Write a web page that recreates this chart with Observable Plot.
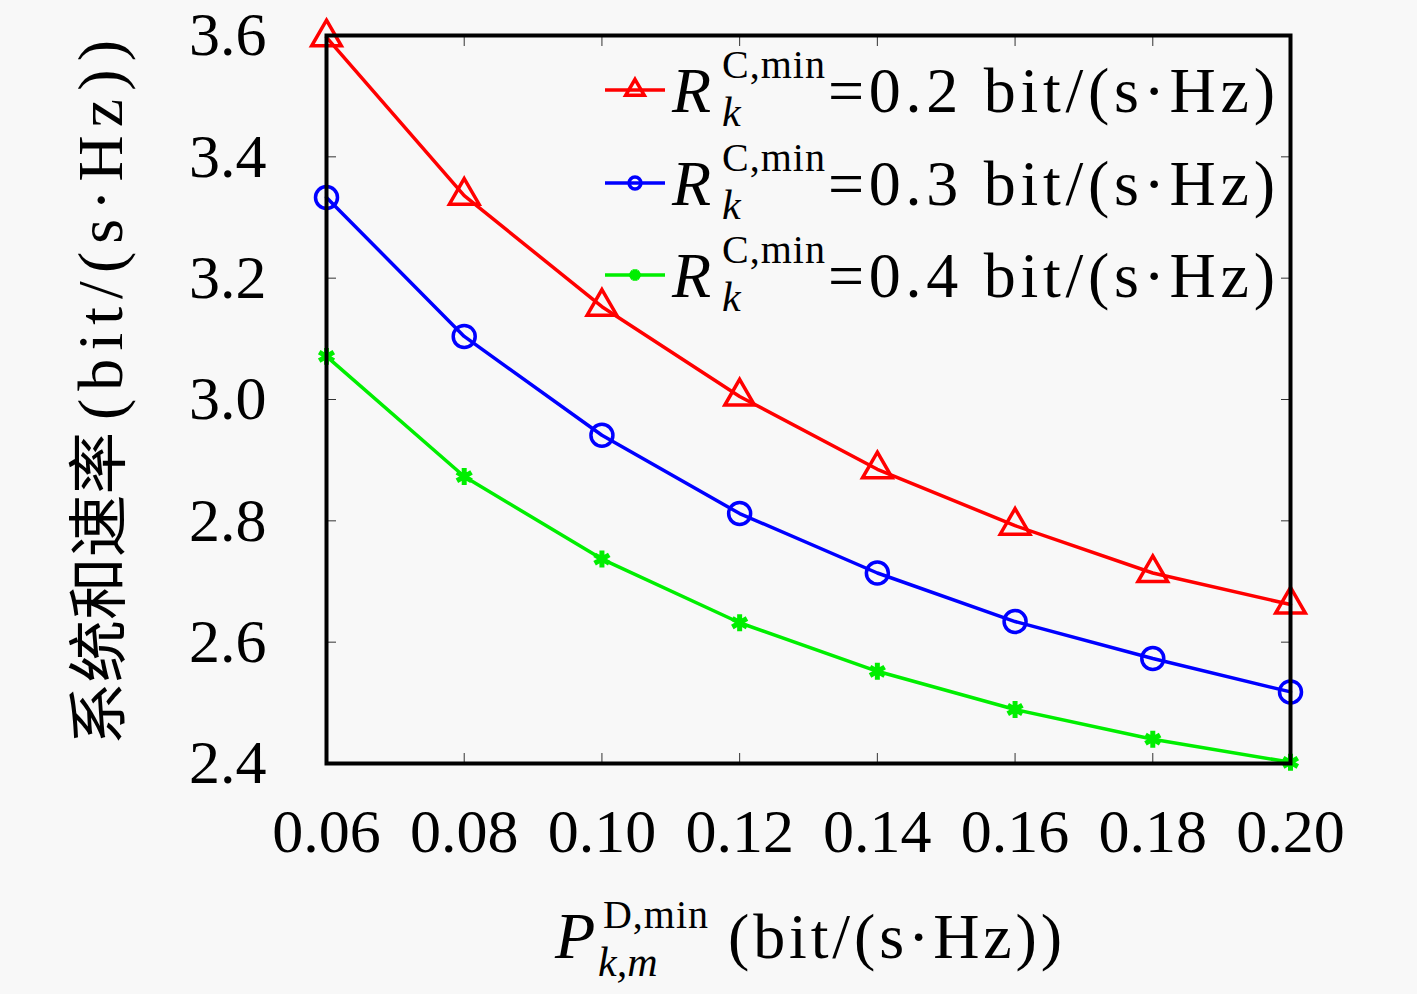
<!DOCTYPE html>
<html>
<head>
<meta charset="utf-8">
<script src="https://cdn.jsdelivr.net/npm/d3@7"></script>
<script src="https://cdn.jsdelivr.net/npm/@observablehq/plot@0.6"></script>
<style>
  html, body { margin: 0; padding: 0; background: #f8f8f8; }
  #chart svg { display: block; }
</style>
</head>
<body>
<div id="chart"></div>
<script>
// ---- data ----
const xValues = [0.06, 0.08, 0.10, 0.12, 0.14, 0.16, 0.18, 0.20];
const series02 = [3.597, 3.336, 3.153, 3.005, 2.885, 2.792, 2.714, 2.662];
const series03 = [3.333, 3.104, 2.941, 2.812, 2.714, 2.634, 2.573, 2.518];
const series04 = [3.071, 2.873, 2.737, 2.632, 2.552, 2.489, 2.440, 2.402];
const seriesNames = ["0.2", "0.3", "0.4"];
const seriesColors = ["#ff0000", "#0000ff", "#00ee00"];
const seriesSymbols = ["triangle", "circle", "asterisk"];
const xTicks = [0.06, 0.08, 0.10, 0.12, 0.14, 0.16, 0.18, 0.20];
const yTicks = [2.4, 2.6, 2.8, 3.0, 3.2, 3.4, 3.6];

const allSeries = [series02, series03, series04];
const rows = [];
allSeries.forEach((vals, si) => vals.forEach((v, i) => rows.push({x: xValues[i], y: v, s: seriesNames[si]})));

const serif = "'Liberation Serif', 'DejaVu Serif', serif";
const W = 1417, H = 994;
const mL = 326, mR = 127, mT = 35, mB = 231;

const plot = Plot.plot({
  width: W, height: H,
  marginLeft: mL, marginRight: mR, marginTop: mT, marginBottom: mB,
  style: {background: "#f8f8f8", fontFamily: serif, color: "black", overflow: "visible"},
  x: {domain: [0.06, 0.20]},
  y: {domain: [2.4, 3.6]},
  color: {domain: seriesNames, range: seriesColors},
  symbol: {domain: seriesNames, range: seriesSymbols},
  marks: [
    // inward ticks on all four sides
    Plot.axisX({anchor: "bottom", ticks: xTicks, tickSize: 10, dy: -10, tickFormat: () => "", label: null, stroke: "#333"}),
    Plot.axisX({anchor: "top", ticks: xTicks, tickSize: 10, dy: 10, tickFormat: () => "", label: null, stroke: "#333"}),
    Plot.axisY({anchor: "left", ticks: yTicks, tickSize: 10, dx: 10, tickFormat: () => "", label: null, stroke: "#333"}),
    Plot.axisY({anchor: "right", ticks: yTicks, tickSize: 10, dx: -10, tickFormat: () => "", label: null, stroke: "#333"}),
    // tick labels
    Plot.axisX({anchor: "bottom", ticks: xTicks, tickSize: 0, tickPadding: 44, fontSize: 62, tickFormat: d3.format(".2f"), label: null}),
    Plot.axisY({anchor: "left", ticks: yTicks, tickSize: 0, tickPadding: 60, fontSize: 62, tickFormat: d3.format(".1f"), label: null}),
    Plot.line(rows, {x: "x", y: "y", z: "s", stroke: "s", strokeWidth: 3.5}),
    Plot.dot(rows.filter(d => d.s !== "0.4"), {x: "x", y: "y", stroke: "s", symbol: "s", r: 11, strokeWidth: 3.5, fill: "none"}),
    Plot.dot(rows.filter(d => d.s === "0.4"), {x: "x", y: "y", stroke: "s", symbol: "s", r: 8, strokeWidth: 5, fill: "s"}),
    Plot.frame({stroke: "black", strokeWidth: 4})
  ]
});
document.getElementById("chart").appendChild(plot);

const svg = d3.select(plot);

// ---- legend ----
const legendY = [90, 183, 275];
const lg = svg.append("g").attr("font-family", serif).attr("fill", "black").attr("text-anchor", "start");
seriesNames.forEach((name, i) => {
  const cy = legendY[i];
  const col = seriesColors[i];
  lg.append("line").attr("x1", 605).attr("x2", 665).attr("y1", cy).attr("y2", cy)
    .attr("stroke", col).attr("stroke-width", 3.5);
  let sym;
  if (seriesSymbols[i] === "triangle") sym = d3.symbol(d3.symbolTriangle, 150)();
  else if (seriesSymbols[i] === "circle") sym = d3.symbol(d3.symbolCircle, 110)();
  else sym = d3.symbol(d3.symbolAsterisk, 90)();
  lg.append("path").attr("d", sym).attr("transform", `translate(635,${cy})`)
    .attr("stroke", col).attr("stroke-width", seriesSymbols[i] === "asterisk" ? 5 : 3.5)
    .attr("fill", seriesSymbols[i] === "asterisk" ? col : "none");
  const base = cy + 22;
  lg.append("text").attr("x", 672).attr("y", base).attr("font-size", 64).attr("font-style", "italic").text("R");
  lg.append("text").attr("x", 722).attr("y", base - 34).attr("font-size", 40)
    .attr("textLength", 103).attr("lengthAdjust", "spacing").text("C,min");
  lg.append("text").attr("x", 722).attr("y", base + 14).attr("font-size", 42).attr("font-style", "italic").text("k");
  lg.append("text").attr("x", 828).attr("y", base).attr("font-size", 64)
    .attr("textLength", 447).attr("lengthAdjust", "spacing")
    .text(`=${name} bit/(s·Hz)`);
});

// ---- x axis title ----
const xt = svg.append("g").attr("font-family", serif).attr("fill", "black").attr("text-anchor", "start");
xt.append("text").attr("x", 555).attr("y", 958).attr("font-size", 66).attr("font-style", "italic").text("P");
xt.append("text").attr("x", 603).attr("y", 928).attr("font-size", 40)
  .attr("textLength", 105).attr("lengthAdjust", "spacing").text("D,min");
xt.append("text").attr("x", 598).attr("y", 976).attr("font-size", 42).attr("font-style", "italic").text("k,m");
xt.append("text").attr("x", 728).attr("y", 958).attr("font-size", 64)
  .attr("textLength", 334).attr("lengthAdjust", "spacing").text("(bit/(s·Hz))");

// ---- y axis title ----
const yt = svg.append("g").attr("transform", "translate(122,0) rotate(-90)").attr("fill", "black").attr("text-anchor", "start");
yt.append("text").attr("x", -745).attr("y", -2).attr("font-size", 60)
  .attr("font-family", "'Noto Sans CJK SC', sans-serif")
  .attr("textLength", 313).attr("lengthAdjust", "spacingAndGlyphs").text("系统和速率");
yt.append("text").attr("x", -420).attr("y", 0).attr("font-size", 64)
  .attr("font-family", serif)
  .attr("textLength", 380).attr("lengthAdjust", "spacing").text("(bit/(s·Hz))");
</script>
</body>
</html>
